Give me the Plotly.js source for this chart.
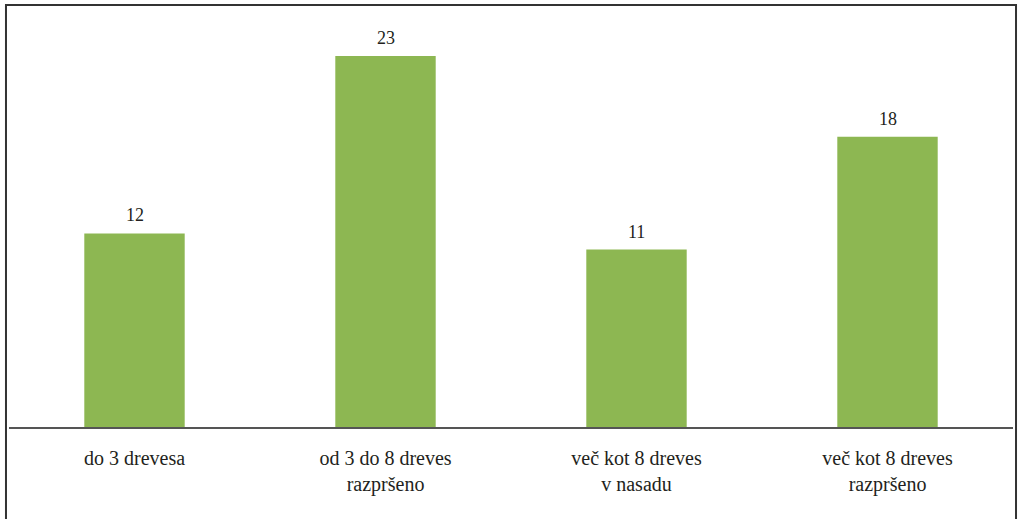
<!DOCTYPE html>
<html>
<head>
<meta charset="utf-8">
<script src="https://cdn.plot.ly/plotly-3.0.1.min.js"></script>
<style>
html,body{margin:0;padding:0;background:#fff;}
#chart{width:1019px;height:519px;}
</style>
</head>
<body>
<div id="chart"></div>
<script>
var categories = ["do 3 drevesa", "od 3 do 8 dreves<br>razpršeno", "več kot 8 dreves<br>v nasadu", "več kot 8 dreves<br>razpršeno"];
var values = [12, 23, 11, 18];
var valueLabels = ["12", "23", "11", "18"];

var serif = "Liberation Serif, Times New Roman, serif";
var textColor = "#231f20";

var trace = {
  type: "bar",
  x: categories,
  y: values,
  marker: {color: "#8db752"},
  width: 0.4,
  hoverinfo: "none"
};

var annotations = categories.map(function(c, i){
  return {
    x: c, y: values[i], xref: "x", yref: "y",
    text: valueLabels[i], showarrow: false,
    yanchor: "bottom", yshift: 6,
    font: {family: serif, size: 18, color: textColor}
  };
});

var layout = {
  width: 1019, height: 519,
  margin: {l: 9, r: 6, t: 20, b: 92},
  paper_bgcolor: "#fff", plot_bgcolor: "#fff",
  showlegend: false,
  xaxis: {
    showline: true, linecolor: "#555", linewidth: 1.5,
    ticks: "", showgrid: false, zeroline: false,
    tickfont: {family: serif, size: 20, color: textColor},
    ticklabelstandoff: 12
  },
  yaxis: {
    range: [0, 25.23], visible: false, showgrid: false, zeroline: false
  },
  annotations: annotations,
  shapes: [{
    type: "rect", xref: "paper", yref: "paper",
    x0: -0.003, x1: 1.003, y0: -0.3, y1: 1.0369,
    line: {color: "#333", width: 2}, fillcolor: "rgba(0,0,0,0)"
  }]
};

Plotly.newPlot("chart", [trace], layout, {staticPlot: true, displayModeBar: false});
</script>
</body>
</html>
